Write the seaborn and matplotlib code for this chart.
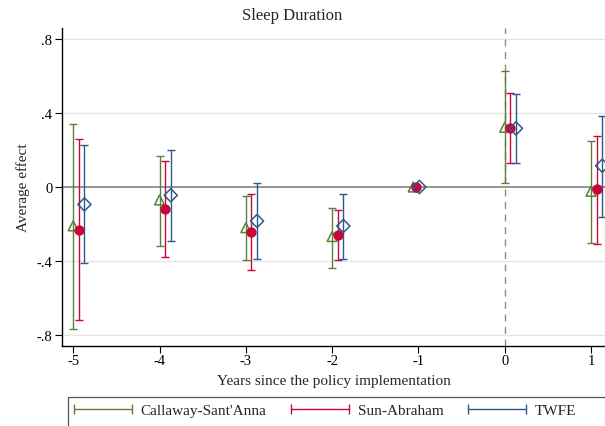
import numpy as np
import pandas as pd
import matplotlib
matplotlib.use("Agg")
import matplotlib.pyplot as plt
import seaborn as sns
from matplotlib.lines import Line2D
from matplotlib.patches import Rectangle

years = [-5, -4, -3, -2, -1, 0, 1]

cs_est = [-0.21, -0.07, -0.22, -0.268, 0.0, 0.323, -0.023]
cs_lo = [-0.77, -0.317, -0.397, -0.44, 0.0, 0.022, -0.303]
cs_hi = [0.34, 0.166, -0.049, -0.114, 0.0, 0.627, 0.25]

sa_est = [-0.23, -0.117, -0.243, -0.26, 0.0, 0.32, -0.013]
sa_lo = [-0.72, -0.377, -0.449, -0.397, 0.0, 0.131, -0.306]
sa_hi = [0.26, 0.142, -0.038, -0.123, 0.0, 0.508, 0.277]

twfe_est = [-0.094, -0.045, -0.184, -0.211, 0.0, 0.317, 0.115]
twfe_lo = [-0.41, -0.29, -0.39, -0.387, 0.0, 0.128, -0.16]
twfe_hi = [0.225, 0.2, 0.023, -0.036, 0.0, 0.504, 0.385]

labels = ["Callaway-Sant'Anna", "Sun-Abraham", "TWFE"]
yticks = [-0.8, -0.4, 0, 0.4, 0.8]
ytick_labels = ["-.8", "-.4", "0", ".4", ".8"]

colors = ["#5a8038", "#c8063a", "#2a5b8c"]
markers = ["^", "o", "D"]
offsets = [0.0, 0.065, 0.13]

rows = []
for name, est, lo, hi in zip(labels, [cs_est, sa_est, twfe_est],
                             [cs_lo, sa_lo, twfe_lo], [cs_hi, sa_hi, twfe_hi]):
    for yr, e, l, h in zip(years, est, lo, hi):
        rows.append({"year": yr, "model": name, "est": e, "lo": l, "hi": h})
df = pd.DataFrame(rows)

sns.set_theme(style="white")
plt.rcParams["font.family"] = ["Liberation Serif", "DejaVu Serif"]

fig = plt.figure(figsize=(6.05, 4.27), dpi=100)
ax = fig.add_axes([62 / 605, 1 - 347 / 427, 1 - 62 / 605, (347 - 29) / 427])

for v in [-0.8, -0.4, 0.4, 0.8]:
    ax.axhline(v, color="#e6e6e6", lw=1, zorder=0)
ax.axhline(0, color="#8c8c8c", lw=1.3, zorder=1)
ax.axvline(0, color="#8c8c8c", lw=1, ls=(0, (5, 4)), zorder=1)

for i, name in enumerate(labels):
    sub = df[df["model"] == name].copy()
    # reference period drawn slightly shifted left
    is_ref = (sub["year"] == -1).astype(float)
    sub["x"] = sub["year"] + offsets[i] * (1 - 0.45 * is_ref) - 0.06 * is_ref
    ci = sub[sub["lo"] != sub["hi"]]
    ax.errorbar(ci["x"], ci["est"],
                yerr=[ci["est"] - ci["lo"], ci["hi"] - ci["est"]],
                fmt="none", ecolor=colors[i], elinewidth=1, capsize=3.2,
                capthick=1, zorder=2)
    if markers[i] == "o":
        sns.scatterplot(data=sub, x="x", y="est", ax=ax, marker="o", s=55,
                        color=colors[i], edgecolor=colors[i], linewidth=0,
                        zorder=3, legend=False)
    else:
        sns.scatterplot(data=sub, x="x", y="est", ax=ax, marker=markers[i],
                        s=50 if markers[i] == "^" else 45,
                        facecolor="none", edgecolor=colors[i], linewidth=1.1,
                        zorder=3, legend=False)

ax.set_xlim(-5.13, 1.162)
ax.set_ylim(-0.86, 0.86)
ax.set_xticks(years)
ax.set_xticklabels([str(y) for y in years])
ax.set_yticks(yticks)
ax.set_yticklabels(ytick_labels)
ax.tick_params(axis="both", direction="out", length=5, width=0.8,
               colors="black", labelsize=10.5, bottom=True, left=True, pad=1)
ax.tick_params(axis="y", labelrotation=0, pad=2)
for s in ["top", "right"]:
    ax.spines[s].set_visible(False)
for s in ["left", "bottom"]:
    ax.spines[s].set_color("black")
    ax.spines[s].set_linewidth(1)

ax.set_xlabel("Years since the policy implementation", fontsize=11, labelpad=5)
ax.set_ylabel("Average effect", fontsize=11, labelpad=5)
fig.text(292 / 605, 1 - 16 / 427, "Sleep Duration", ha="center", va="center",
         fontsize=12)

# legend box runs off the right and bottom edges, as in the original export
fig.patches.append(Rectangle((68 / 605, -0.5), 2.0, 0.5 + 1 - 398 / 427,
                             transform=fig.transFigure, fill=False,
                             edgecolor="#555555", lw=0.9))

handles = [Line2D([0], [0], color=c, lw=1, marker="|", markersize=7,
                  markeredgewidth=1) for c in colors]
leg = fig.legend(handles, labels, loc="upper left", ncol=3, numpoints=2,
                 bbox_to_anchor=(68 / 605, 1 - 403 / 427), frameon=False,
                 fontsize=11, handlelength=4.4,
                 handletextpad=0.25, columnspacing=1.32, borderpad=0.1,
                 borderaxespad=0)

fig.savefig("out.png", dpi=100)
